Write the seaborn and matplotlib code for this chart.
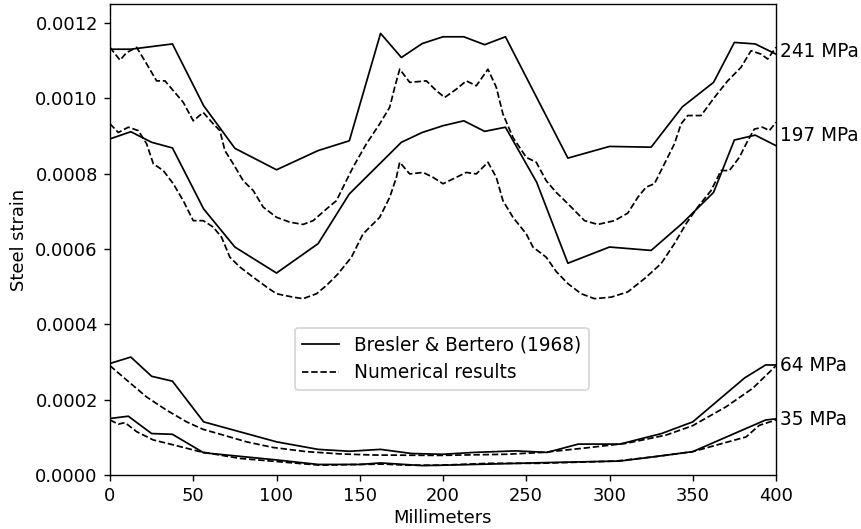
import matplotlib
matplotlib.use("Agg")
import matplotlib.pyplot as plt
import seaborn as sns
import pandas as pd

# Experimental strain profiles (Bresler & Bertero, 1968)
exp_241_x = [0, 12.5, 37.5, 56.25, 75, 100, 125, 143.75, 162.5, 175, 187.5, 200,
             212.5, 225, 237.5, 275, 300, 325, 343.75, 362.5, 375, 387.5, 400]
exp_241_y = [0.001130, 0.001130, 0.001144, 0.000980, 0.000867, 0.000810, 0.000861,
             0.000887, 0.001172, 0.001108, 0.001145, 0.001163, 0.001163, 0.001142,
             0.001163, 0.000841, 0.000872, 0.000870, 0.000977, 0.001042, 0.001148,
             0.001144, 0.001117]

exp_197_x = [0, 12.5, 25, 37.5, 56.25, 75, 100, 125, 143.75, 175, 187.5, 200,
             212.5, 225, 237.5, 256.25, 275, 300, 325, 343.75, 362.5, 375, 387.5, 400]
exp_197_y = [0.000892, 0.000911, 0.000883, 0.000868, 0.000706, 0.000605, 0.000536,
             0.000614, 0.000746, 0.000883, 0.000909, 0.000927, 0.000940, 0.000912,
             0.000923, 0.000777, 0.000562, 0.000605, 0.000596, 0.000668, 0.000750,
             0.000889, 0.000902, 0.000874]

exp_64_x = [0, 12.5, 25, 37.5, 56.25, 100, 125, 143.75, 162.5, 181.25, 200, 218.75,
            243.75, 262.5, 281.25, 306.25, 331.25, 350, 381.25, 393.75, 400]
exp_64_y = [0.000296, 0.000313, 0.000262, 0.000249, 0.000141, 0.000088, 0.000068,
            0.000063, 0.000068, 0.000057, 0.000055, 0.000060, 0.000064, 0.000060,
            0.000082, 0.000082, 0.000110, 0.000141, 0.000258, 0.000292, 0.000292]

exp_35_x = [0, 11, 25, 37.5, 56.25, 100, 125, 150, 162.5, 187.5, 200, 228, 262.5,
            306.25, 331.25, 350, 375, 393.75, 400]
exp_35_y = [0.000150, 0.000156, 0.000110, 0.000108, 0.000059, 0.000040, 0.000028,
            0.000028, 0.000032, 0.000025, 0.000026, 0.000029, 0.000033, 0.000037,
            0.000051, 0.000062, 0.000110, 0.000146, 0.000149]

# Numerical results
num_241_x = [0, 6, 10, 16, 22, 28, 33, 39, 44, 50, 56, 62, 66, 69, 74, 80, 86, 92,
             100, 108, 116, 122, 130, 136, 140, 146, 154, 162, 168, 171, 174, 180,
             190, 196, 201, 208, 214, 220, 227, 232, 236, 242, 250, 256, 262, 268,
             275, 285, 293, 303, 311, 317, 322, 327, 333, 339, 343, 347, 355, 363,
             371, 379, 385, 391, 395, 400]
num_241_y = [0.001135, 0.001101, 0.001121, 0.001135, 0.001091, 0.001046, 0.001046,
             0.001015, 0.000989, 0.000940, 0.000962, 0.000932, 0.000914, 0.000861,
             0.000826, 0.000781, 0.000755, 0.000711, 0.000684, 0.000671, 0.000665,
             0.000675, 0.000706, 0.000728, 0.000764, 0.000817, 0.000879, 0.000932,
             0.000976, 0.001029, 0.001077, 0.001042, 0.001046, 0.001020, 0.001002,
             0.001024, 0.001046, 0.001033, 0.001077, 0.001029, 0.000958, 0.000896,
             0.000843, 0.000830, 0.000781, 0.000750, 0.000720, 0.000675, 0.000665,
             0.000675, 0.000695, 0.000737, 0.000764, 0.000773, 0.000826, 0.000879,
             0.000932, 0.000954, 0.000954, 0.001002, 0.001046, 0.001082, 0.001126,
             0.001117, 0.001104, 0.001135]

num_197_x = [0, 5, 11, 17, 22, 26, 32, 38, 44, 50, 56, 62, 67, 72, 78, 86, 94, 100,
             110, 116, 124, 130, 137, 145, 152, 162, 168, 172, 174, 180, 188, 194,
             200, 208, 214, 220, 227, 232, 236, 242, 250, 254, 262, 268, 275, 283,
             291, 301, 311, 321, 331, 339, 346, 353, 361, 367, 372, 378, 383, 387,
             392, 396, 400]
num_197_y = [0.000932, 0.000909, 0.000923, 0.000914, 0.000879, 0.000826, 0.000808,
             0.000773, 0.000728, 0.000675, 0.000675, 0.000658, 0.000631, 0.000578,
             0.000552, 0.000525, 0.000499, 0.000481, 0.000472, 0.000468, 0.000481,
             0.000503, 0.000534, 0.000578, 0.000640, 0.000684, 0.000737, 0.000790,
             0.000830, 0.000799, 0.000803, 0.000790, 0.000773, 0.000790, 0.000803,
             0.000799, 0.000830, 0.000790, 0.000728, 0.000684, 0.000640, 0.000605,
             0.000578, 0.000540, 0.000508, 0.000481, 0.000468, 0.000472, 0.000486,
             0.000521, 0.000561, 0.000614, 0.000667, 0.000711, 0.000755, 0.000808,
             0.000808, 0.000843, 0.000887, 0.000918, 0.000923, 0.000914, 0.000936]

num_64_x = [0, 10, 22, 34, 46, 56, 68, 82, 98, 118, 138, 158, 198, 238, 260, 284,
            310, 334, 350, 370, 386, 400]
num_64_y = [0.000290, 0.000252, 0.000207, 0.000172, 0.000141, 0.000121, 0.000106,
            0.000088, 0.000073, 0.000062, 0.000056, 0.000053, 0.000052, 0.000055,
            0.000060, 0.000071, 0.000084, 0.000106, 0.000131, 0.000181, 0.000230,
            0.000290]

num_35_x = [0, 5, 9, 16, 26, 38, 54, 78, 102, 126, 150, 164, 178, 198, 228, 258,
            304, 328, 350, 368, 382, 390, 400]
num_35_y = [0.000146, 0.000135, 0.000139, 0.000115, 0.000093, 0.000080, 0.000062,
            0.000044, 0.000035, 0.000026, 0.000028, 0.000029, 0.000026, 0.000026,
            0.000031, 0.000031, 0.000037, 0.000049, 0.000062, 0.000084, 0.000101,
            0.000132, 0.000146]

stress_labels = ["241 MPa", "197 MPa", "64 MPa", "35 MPa"]
label_y = [0.001124, 0.000900, 0.000291, 0.000146]

experimental = [(exp_241_x, exp_241_y), (exp_197_x, exp_197_y),
                (exp_64_x, exp_64_y), (exp_35_x, exp_35_y)]
numerical = [(num_241_x, num_241_y), (num_197_x, num_197_y),
             (num_64_x, num_64_y), (num_35_x, num_35_y)]

plt.rcParams["font.size"] = 10.7
plt.rcParams["xtick.labelsize"] = 10.3
plt.rcParams["ytick.labelsize"] = 10.3

fig = plt.figure(figsize=(861 / 125, 529 / 125), dpi=125)
ax = fig.add_axes([110 / 861, 1 - 475 / 529, 666 / 861, 471 / 529])

for i, (xs, ys) in enumerate(experimental):
    df = pd.DataFrame({"mm": xs, "strain": ys})
    sns.lineplot(data=df, x="mm", y="strain", ax=ax, color="k", linewidth=1.0,
                 linestyle="-", sort=False, estimator=None,
                 label="Bresler & Bertero (1968)" if i == 0 else None)

for i, (xs, ys) in enumerate(numerical):
    df = pd.DataFrame({"mm": xs, "strain": ys})
    sns.lineplot(data=df, x="mm", y="strain", ax=ax, color="k", linewidth=1.0,
                 linestyle="--", sort=False, estimator=None,
                 label="Numerical results" if i == 0 else None)

for text, yv in zip(stress_labels, label_y):
    ax.text(402.5, yv, text, va="center", ha="left", fontsize=10.7, clip_on=False)

ax.set_xlim(0, 400)
ax.set_ylim(0, 0.00125)
ax.set_yticks([0, 0.0002, 0.0004, 0.0006, 0.0008, 0.0010, 0.0012])
ax.set_yticklabels(["0.0000", "0.0002", "0.0004", "0.0006", "0.0008", "0.0010", "0.0012"])
ax.set_xlabel("Millimeters", fontsize=10.3, labelpad=2)
ax.set_ylabel("Steel strain", fontsize=10.3)
ax.legend(loc="center", bbox_to_anchor=(0.498, 0.247), fontsize=10.7)

fig.savefig("out.png", dpi=125)
